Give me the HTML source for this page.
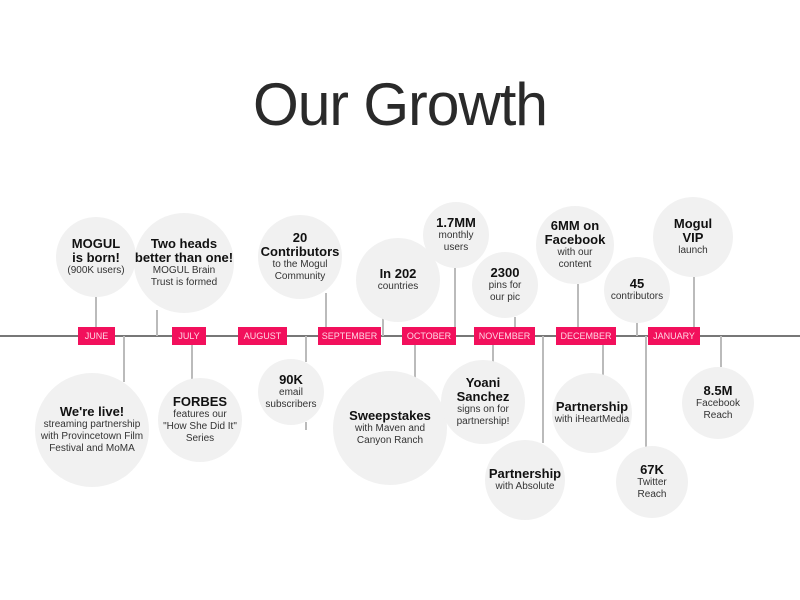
<!DOCTYPE html>
<html><head><meta charset="utf-8">
<style>
body{margin:0;width:800px;height:600px;background:#fff;position:relative;overflow:hidden;font-family:"Liberation Sans",Arial,sans-serif;}
#title{position:absolute;left:0;width:800px;top:70px;text-align:center;font-size:60px;color:#2a2a2a;letter-spacing:-1px;font-weight:normal;transform:scaleX(0.98);}
.line{position:absolute;left:0;top:335px;width:800px;height:2px;background:#777;}
.stem{position:absolute;width:2px;background:#bbb;}
.circ{position:absolute;border-radius:50%;background:#f1f1f1;display:flex;flex-direction:column;align-items:center;justify-content:center;text-align:center;color:#111;}
.circ b{font-size:13px;line-height:14px;}
.circ span{font-size:10px;line-height:12px;color:#333;}
.month{position:absolute;top:327px;height:18px;background:#f2105c;color:#ffd6e4;font-size:9px;line-height:18px;text-align:center;}
</style></head><body>
<div id="title">Our Growth</div>
<div class="line"></div>
<div id="root"></div>
<script>
// Months: label, left x, right x
const monthLabels=["JUNE","JULY","AUGUST","SEPTEMBER","OCTOBER","NOVEMBER","DECEMBER","JANUARY"];
const monthX0=[78,172,238,318,402,474,556,648];
const monthX1=[115,206,287,381,456,535,616,700];
// Milestones
const titles=["MOGUL<br>is born!","Two heads<br>better than one!","20<br>Contributors","In 202","1.7MM","2300","6MM on<br>Facebook","45","Mogul<br>VIP",
"We're live!","FORBES","90K","Sweepstakes","Yoani<br>Sanchez","Partnership","Partnership","67K","8.5M"];
const subs=["(900K users)","MOGUL Brain<br>Trust is formed","to the Mogul<br>Community","countries","monthly<br>users","pins for<br>our pic","with our<br>content","contributors","launch",
"streaming partnership<br>with Provincetown Film<br>Festival and MoMA","features our<br>\"How She Did It\"<br>Series","email<br>subscribers","with Maven and<br>Canyon Ranch","signs on for<br>partnership!","with Absolute","with iHeartMedia","Twitter<br>Reach","Facebook<br>Reach"];
const cx=[96,184,300,398,456,505,575,637,693, 92,200,291,390,483,525,592,652,718];
const cy=[257,263,257,280,235,285,245,290,237, 430,420,392,428,402,480,413,482,403];
const rad=[40,50,42,42,33,33,39,33,40, 57,42,33,57,42,40,40,36,36];
const stemX=[96,157,326,383,455,515,578,637,694, 124,192,306,415,493,543,603,646,721];
const stemY0=[297,310,293,315,268,317,284,323,277, 336,345,336,345,345,336,345,336,336];
const stemY1=[327,336,336,336,327,327,327,336,327, 382,380,362,388,362,443,380,450,367];

const root=document.getElementById('root');
for(let i=0;i<titles.length;i++){
  const s=document.createElement('div');s.className='stem';
  
  
  s.style.left=(stemX[i]-1)+'px';s.style.top=stemY0[i]+'px';s.style.height=(stemY1[i]-stemY0[i])+'px';
  root.appendChild(s);
}
const s2=document.createElement('div');s2.className='stem';


s2.style.left='305px';s2.style.top='422px';s2.style.height='8px';root.appendChild(s2);
for(let i=0;i<titles.length;i++){
  const c=document.createElement('div');c.className='circ';
  
  
  c.style.left=(cx[i]-rad[i])+'px';c.style.top=(cy[i]-rad[i])+'px';
  c.style.width=c.style.height=(2*rad[i])+'px';
  c.innerHTML='<b>'+titles[i]+'</b><span>'+subs[i]+'</span>';
  root.appendChild(c);
}
for(let i=0;i<monthLabels.length;i++){
  const m=document.createElement('div');m.className='month';
  
  
  m.style.left=monthX0[i]+'px';m.style.width=(monthX1[i]-monthX0[i])+'px';
  m.textContent=monthLabels[i];root.appendChild(m);
}
</script>
</body></html>
